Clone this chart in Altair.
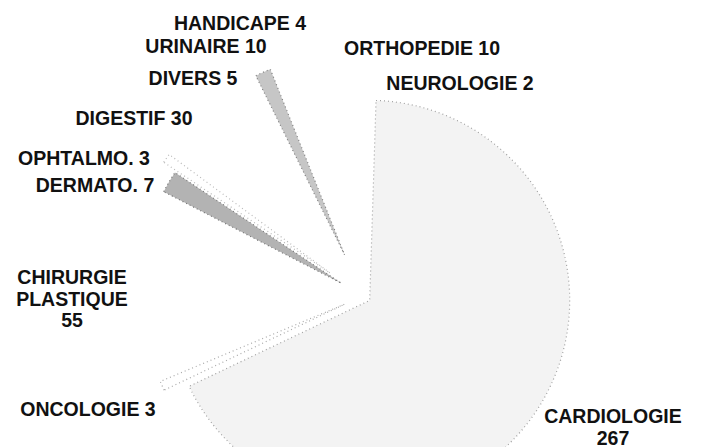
import altair as alt
import pandas as pd

# ---- data (clockwise from 12 o'clock) ----
categories = ["NEUROLOGIE", "CARDIOLOGIE", "ONCOLOGIE", "CHIRURGIE PLASTIQUE",
              "DERMATO.", "OPHTALMO.", "DIGESTIF", "DIVERS", "URINAIRE",
              "HANDICAPE", "ORTHOPEDIE"]
values = [2, 267, 3, 55, 7, 3, 30, 5, 10, 4, 10]

# ---- style ----
CX, CY = 355, 288          # common pie centre (chart px)
RADIUS = 200
explode = [10, 8, 20, 30, 25, 40, 30, 45, 30, 30, 30]
fills = ["#ffffff", "#f3f3f3", "#ffffff", "#ffffff", "#b3b3b3", "#ffffff",
         "#ffffff", "#c6c6c6", "#ffffff", "#ffffff", "#ffffff"]
strokes = ["transparent", "#a0a0a0", "#a8a8a8", "transparent", "#777777",
           "#b8b8b8", "transparent", "#808080", "transparent", "transparent",
           "transparent"]
multiline = [False, True, False, True, False, False, False, False, False, False, False]
# label anchor (centre x, first baseline y) in chart px
label_x = [452, 605, 80, 64, 87, 76, 126, 185, 198, 232, 414]
label_y = [82, 415, 408, 276, 184, 157, 117, 77, 45, 22, 47]

slices = pd.DataFrame({
    "idx": list(range(len(categories))),
    "cat": categories,
    "value": values,
    "explode": explode,
})

labels = pd.DataFrame({
    "text": [(c.replace(" ", "\n") + "\n" + str(v)) if m else f"{c} {v}"
             for c, v, m in zip(categories, values, multiline)],
    "lx": label_x,
    "ly": label_y,
})

pie = (
    alt.Chart(slices)
    .transform_joinaggregate(total="sum(value)")
    .transform_window(cum="sum(value)", sort=[alt.SortField("idx")], frame=[None, 0])
    .transform_calculate(t1="datum.cum / datum.total * 2 * PI")
    .transform_calculate(t0="(datum.cum - datum.value) / datum.total * 2 * PI")
    .transform_calculate(mid="(datum.t0 + datum.t1) / 2")
    .transform_calculate(cx=f"{CX} + datum.explode * sin(datum.mid)")
    .transform_calculate(cy=f"{CY} - datum.explode * cos(datum.mid)")
    .mark_arc(outerRadius=RADIUS, strokeDash=[1, 3], strokeWidth=1.2)
    .encode(
        theta=alt.Theta("t0:Q", scale=None),
        theta2="t1:Q",
        x=alt.X("cx:Q", scale=None),
        y=alt.Y("cy:Q", scale=None),
        fill=alt.Fill("cat:N", scale=alt.Scale(domain=categories, range=fills), legend=None),
        stroke=alt.Stroke("cat:N", scale=alt.Scale(domain=categories, range=strokes), legend=None),
        order=alt.Order("idx:Q"),
    )
)

text = (
    alt.Chart(labels)
    .mark_text(font="Liberation Sans", fontWeight="bold", fontSize=19.5, align="center",
               baseline="alphabetic", lineBreak="\n", lineHeight=21.5, color="#111111")
    .encode(
        x=alt.X("lx:Q", scale=None),
        y=alt.Y("ly:Q", scale=None),
        text="text:N",
    )
)

chart = (
    alt.layer(pie, text)
    .properties(width=688, height=439, padding=0,
                autosize=alt.AutoSizeParams(type="none"), background="white")
    .configure_view(stroke=None)
)

chart.save("out.html", embed_options={"renderer": "svg", "actions": False})
